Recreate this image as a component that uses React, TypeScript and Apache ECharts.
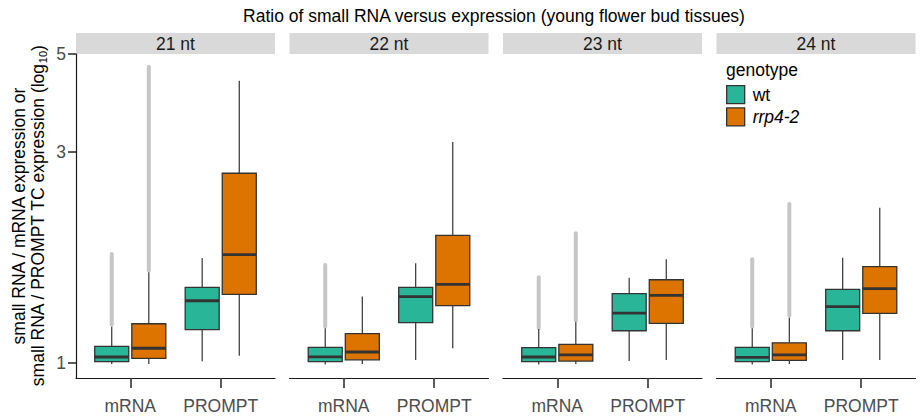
import React, { useEffect, useRef } from 'react';
import * as echarts from 'echarts';

const facets = ['21 nt', '22 nt', '23 nt', '24 nt'];
const features = ['mRNA', 'PROMPT'];
const genotypes = ['wt', 'rrp4-2'];
const genotypeColors = ['#29B698', '#DE7400'];
const yTicks = [1, 3, 5];
const yMin = 0.925;
const yMax = 5;

// box statistics per facet: [whiskerLow, Q1, median, Q3, whiskerHigh]
const wtMRNA = [
  [0.995, 1.007, 1.032, 1.091, 1.208],
  [0.993, 1.007, 1.033, 1.085, 1.198],
  [0.993, 1.007, 1.032, 1.083, 1.194],
  [0.993, 1.007, 1.030, 1.085, 1.198],
];
const wtPROMPT = [
  [1.009, 1.190, 1.383, 1.483, 1.728],
  [1.016, 1.234, 1.413, 1.483, 1.681],
  [1.010, 1.183, 1.297, 1.435, 1.560],
  [1.016, 1.183, 1.341, 1.468, 1.731],
];
const rrpMRNA = [
  [0.995, 1.025, 1.080, 1.227, 1.604],
  [0.995, 1.017, 1.059, 1.165, 1.415],
  [0.995, 1.010, 1.043, 1.102, 1.240],
  [0.995, 1.014, 1.043, 1.111, 1.266],
];
const rrpPROMPT = [
  [1.039, 1.430, 1.758, 2.687, 4.352],
  [1.080, 1.348, 1.507, 1.945, 3.160],
  [1.016, 1.229, 1.423, 1.543, 1.717],
  [1.016, 1.295, 1.473, 1.652, 2.246],
];
// outlier range (mRNA), [lowest outlier, highest outlier], null = none
const wtOutliers = [[1.22, 1.765], [1.21, 1.666], [1.20, 1.563], [1.21, 1.717]];
const rrpOutliers = [[1.62, 4.68], null, [1.25, 1.966], [1.28, 2.289]];

const FONT = "'Liberation Sans', Arial, Helvetica, sans-serif";
const PANEL_LEFT = [76, 289.5, 503, 716.5];
const PANEL_W = 199;
const PANEL_TOP = 54;
const PANEL_H = 324;
const DODGE = 0.205;
const HALF = 0.188;

const lg = (v: number) => Math.log10(v);

function buildOption() {
  const grids: any[] = [];
  const xAxes: any[] = [];
  const yAxes: any[] = [];
  const series: any[] = [];
  const graphics: any[] = [];

  facets.forEach((facet, f) => {
    grids.push({ left: PANEL_LEFT[f], top: PANEL_TOP, width: PANEL_W, height: PANEL_H });
    xAxes.push({
      type: 'value', gridIndex: f, min: 0.4, max: 2.6,
      axisLine: { show: true, onZero: false, lineStyle: { color: '#1a1a1a', width: 1.2 } },
      axisTick: { show: true, customValues: [1, 2], length: 10, lineStyle: { color: '#333', width: 1.6 } },
      axisLabel: {
        customValues: [1, 2], formatter: (v: number) => features[Math.round(v) - 1],
        margin: 19, fontSize: 17.5, color: '#4d4d4d', fontFamily: FONT,
      },
      splitLine: { show: false },
    });
    yAxes.push({
      type: 'value', gridIndex: f, min: lg(yMin), max: lg(yMax),
      show: f === 0,
      axisLine: { show: true, onZero: false, lineStyle: { color: '#1a1a1a', width: 1.2 } },
      axisTick: { show: true, customValues: yTicks.map(lg), length: 8, lineStyle: { color: '#333', width: 1.6 } },
      axisLabel: {
        customValues: yTicks.map(lg), formatter: (v: number) => String(Math.round(Math.pow(10, v))),
        margin: 10, fontSize: 17.5, color: '#4d4d4d', fontFamily: FONT,
      },
      splitLine: { show: false },
    });

    const statsByGeno = [[wtMRNA[f], wtPROMPT[f]], [rrpMRNA[f], rrpPROMPT[f]]];
    const outByGeno = [wtOutliers[f], rrpOutliers[f]];
    genotypes.forEach((g, gi) => {
      const off = gi === 0 ? -DODGE : DODGE;
      const data = features.map((_, k) => {
        const s = statsByGeno[gi][k];
        const o = k === 0 ? outByGeno[gi] : null;
        return [k + 1, ...s.map(lg), o ? lg(o[0]) : NaN, o ? lg(o[1]) : NaN];
      });
      series.push({
        type: 'custom', name: g, xAxisIndex: f, yAxisIndex: f,
        itemStyle: { color: genotypeColors[gi] },
        encode: { x: 0, y: [1, 2, 3, 4, 5] },
        data,
        renderItem: (params: any, api: any) => {
          const cxv = api.value(0) + off;
          const pt = (v: number) => api.coord([cxv, v]);
          const x = pt(api.value(3))[0];
          const w = api.size([HALF, 0])[0];
          const yLo = pt(api.value(1))[1];
          const yQ1 = pt(api.value(2))[1];
          const yMed = pt(api.value(3))[1];
          const yQ3 = pt(api.value(4))[1];
          const yHi = pt(api.value(5))[1];
          const oLo = api.value(6);
          const oHi = api.value(7);
          const children: any[] = [];
          if (!isNaN(oHi) && !isNaN(oLo)) {
            children.push({
              type: 'line',
              shape: { x1: x, y1: pt(oLo)[1], x2: x, y2: pt(oHi)[1] },
              style: { stroke: '#c6c6c6', lineWidth: 4, lineCap: 'round' },
            });
          }
          children.push({ type: 'line', shape: { x1: x, y1: yQ3, x2: x, y2: yHi }, style: { stroke: '#333', lineWidth: 1.2 } });
          children.push({ type: 'line', shape: { x1: x, y1: yQ1, x2: x, y2: yLo }, style: { stroke: '#333', lineWidth: 1.2 } });
          children.push({
            type: 'rect',
            shape: { x: x - w, y: yQ3, width: 2 * w, height: yQ1 - yQ3 },
            style: { fill: api.visual('color'), stroke: '#333', lineWidth: 1.3 },
          });
          children.push({
            type: 'line',
            shape: { x1: x - w, y1: yMed, x2: x + w, y2: yMed },
            style: { stroke: '#333', lineWidth: 2.8 },
          });
          return { type: 'group', children };
        },
      });
    });

    graphics.push({
      type: 'rect',
      shape: { x: PANEL_LEFT[f], y: 33, width: PANEL_W, height: 21 },
      style: { fill: '#d9d9d9' },
      silent: true,
    });
    graphics.push({
      type: 'text',
      x: PANEL_LEFT[f] + PANEL_W / 2, y: 44,
      style: {
        text: facet, fontSize: 17.5, fontFamily: FONT, fill: '#1a1a1a',
        align: 'center', verticalAlign: 'middle', textAlign: 'center', textVerticalAlign: 'middle',
      },
    });
  });

  graphics.push({
    type: 'text', x: 494, y: 16,
    style: {
      text: 'Ratio of small RNA versus expression (young flower bud tissues)',
      fontSize: 17.5, fontFamily: FONT, fill: '#000',
      align: 'center', verticalAlign: 'middle', textAlign: 'center', textVerticalAlign: 'middle',
    },
  });
  graphics.push({
    type: 'text', x: 19, y: 216, rotation: Math.PI / 2,
    style: {
      text: 'small RNA / mRNA expression or',
      fontSize: 17.5, fontFamily: FONT, fill: '#000',
      align: 'center', verticalAlign: 'middle', textAlign: 'center', textVerticalAlign: 'middle',
    },
  });
  graphics.push({
    type: 'text', x: 38, y: 216, rotation: Math.PI / 2,
    style: {
      text: '{a|small RNA / PROMPT TC expression (log}{s|10}{a|)}',
      fontSize: 17.5, fontFamily: FONT, fill: '#000',
      align: 'center', verticalAlign: 'middle', textAlign: 'center', textVerticalAlign: 'middle',
      rich: {
        a: { fontSize: 17.5, fontFamily: FONT, fill: '#000', color: '#000', lineHeight: 20, verticalAlign: 'middle' },
        s: { fontSize: 11, fontFamily: FONT, fill: '#000', color: '#000', lineHeight: 8, verticalAlign: 'bottom' },
      },
    },
  });
  graphics.push({
    type: 'text', x: 726, y: 70,
    style: {
      text: 'genotype', fontSize: 17.5, fontFamily: FONT, fill: '#000',
      align: 'left', verticalAlign: 'middle', textAlign: 'left', textVerticalAlign: 'middle',
    },
  });

  return {
    animation: false,
    grid: grids,
    xAxis: xAxes,
    yAxis: yAxes,
    series,
    graphic: graphics,
    legend: {
      data: genotypes,
      orient: 'vertical',
      left: 726,
      top: 85,
      padding: 0,
      itemWidth: 18,
      itemHeight: 18,
      itemGap: 3,
      icon: 'rect',
      selectedMode: false,
      itemStyle: { borderColor: '#333', borderWidth: 1.3 },
      textStyle: {
        fontSize: 17.5, fontFamily: FONT, color: '#000', padding: [0, 0, 0, 3],
        rich: { i: { fontStyle: 'italic', fontSize: 17.5, fontFamily: FONT, color: '#000' } },
      },
      formatter: (n: string) => (n === 'rrp4-2' ? '{i|rrp4-2}' : n),
    },
  };
}

export default function App() {
  const ref = useRef<HTMLDivElement>(null);
  useEffect(() => {
    if (!ref.current) return;
    const chart = echarts.init(ref.current, undefined, { renderer: 'svg' });
    chart.setOption(buildOption() as any);
    return () => chart.dispose();
  }, []);
  return (
    <div
      ref={ref}
      style={{ position: 'absolute', left: 0, top: 0, width: 920, height: 416, background: '#fff' }}
    />
  );
}
